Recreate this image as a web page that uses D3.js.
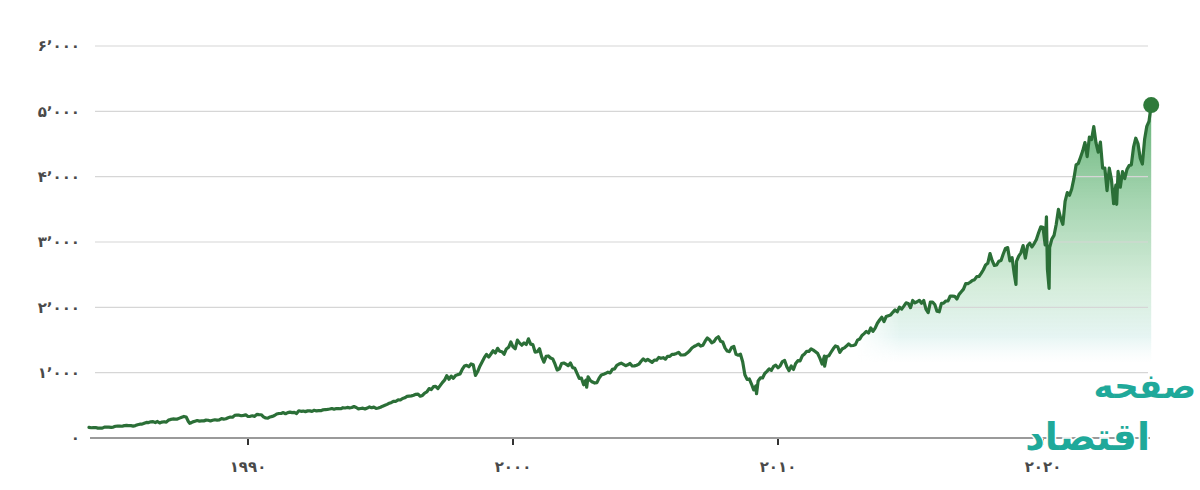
<!DOCTYPE html>
<html>
<head>
<meta charset="utf-8">
<script src="https://cdn.jsdelivr.net/npm/d3@7"></script>
<style>
  html, body { margin: 0; padding: 0; background: #ffffff; }
  svg { display: block; }
</style>
</head>
<body>
<div id="chart"></div>
<script>
// ---- Data (S&P 500 monthly closes) ----
const startYear = 1984;
const close1980s = [
  163.4,157.1,159.2,160.1,150.6,153.2,150.7,166.7,166.1,166.1,163.6,167.2,
  179.6,181.2,180.7,179.8,189.6,191.9,190.9,188.6,182.1,189.8,202.2,211.3,
  211.8,226.9,238.9,235.5,247.4,250.8,236.1,252.9,231.3,244.0,249.2,242.2,
  274.1,284.2,291.7,288.4,290.1,304.0,318.7,329.8,321.8,251.8,230.3,247.1,
  257.1,267.8,258.9,261.3,262.2,273.5,272.0,261.5,271.9,279.0,273.7,277.7,
  297.5,288.9,294.9,309.6,320.5,318.0,346.1,351.5,349.2,340.4,346.0,353.4
];
const close1990s = [
  329.1,331.9,339.9,330.8,361.2,358.0,356.2,322.6,306.1,304.0,322.2,330.2,
  343.9,367.1,375.2,375.3,389.8,371.2,387.8,395.4,387.9,392.5,375.2,417.1,
  408.8,412.7,403.7,415.0,415.4,408.1,424.2,414.0,417.8,418.7,431.4,435.7,
  438.8,443.4,451.7,440.2,450.2,450.5,448.1,463.6,458.9,467.8,461.8,466.5,
  481.6,467.1,445.8,450.9,456.5,444.3,458.3,475.5,462.7,472.4,453.7,459.3,
  470.4,487.4,500.7,514.7,533.4,544.8,562.1,561.9,584.4,581.5,605.4,615.9,
  636.0,640.4,645.5,654.2,669.1,670.6,639.9,652.0,687.3,705.3,757.0,740.7,
  786.2,790.8,757.1,801.3,848.3,885.1,954.3,899.5,947.3,914.6,955.4,970.4,
  980.3,1049.3,1101.8,1111.8,1090.8,1133.8,1120.7,957.3,1017.0,1098.7,1163.6,1229.2,
  1279.6,1238.3,1286.4,1335.2,1301.8,1372.7,1328.7,1320.4,1282.7,1362.9,1388.9,1469.3
];
const close2000s = [
  1394.5,1366.4,1498.6,1452.4,1420.6,1454.6,1430.8,1517.7,1436.5,1429.4,1315.2,1320.3,
  1366.0,1239.9,1160.3,1249.5,1255.8,1224.4,1211.2,1133.6,1040.9,1059.8,1139.5,1148.1,
  1130.2,1106.7,1147.4,1076.9,1067.1,989.8,911.6,916.1,815.3,885.8,936.3,879.8,
  855.7,841.2,848.2,916.9,963.6,974.5,990.3,1008.0,996.0,1050.7,1058.2,1111.9,
  1131.1,1144.9,1126.2,1107.3,1120.7,1140.8,1101.7,1104.2,1114.6,1130.2,1173.8,1211.9,
  1181.3,1203.6,1180.6,1156.9,1191.5,1191.3,1234.2,1220.3,1228.8,1207.0,1249.5,1248.3,
  1280.1,1280.7,1294.8,1310.6,1270.1,1270.2,1276.7,1303.8,1335.9,1377.9,1400.6,1418.3,
  1438.2,1406.8,1420.9,1482.4,1530.6,1503.4,1455.3,1474.0,1526.8,1549.4,1481.1,1468.4,
  1378.6,1330.6,1322.7,1385.6,1400.4,1280.0,1267.4,1282.8,1166.4,968.8,896.2,903.3,
  825.9,735.1,797.9,872.8,919.1,919.3,987.5,1020.6,1057.1,1036.2,1095.6,1115.1
];
const close2010s = [
  1073.9,1104.5,1169.4,1186.7,1089.4,1030.7,1101.6,1049.3,1141.2,1183.3,1180.6,1257.6,
  1286.1,1327.2,1325.8,1363.6,1345.2,1320.6,1292.3,1218.9,1131.4,1253.3,1247.0,1257.6,
  1312.4,1365.7,1408.5,1397.9,1310.3,1362.2,1379.3,1406.6,1440.7,1412.2,1416.2,1426.2,
  1498.1,1514.7,1569.2,1597.6,1630.7,1606.3,1685.7,1633.0,1681.6,1756.5,1805.8,1848.4,
  1782.6,1859.5,1872.3,1884.0,1923.6,1960.2,1930.7,2003.4,1972.3,2018.1,2067.6,2058.9,
  1995.0,2104.5,2067.9,2085.5,2107.4,2063.1,2103.8,1972.2,1920.0,2079.4,2080.4,2043.9,
  1940.2,1932.2,2059.7,2065.3,2097.0,2098.9,2173.6,2171.0,2168.3,2126.2,2198.8,2238.8,
  2278.9,2363.6,2362.7,2384.2,2411.8,2423.4,2470.3,2471.7,2519.4,2575.3,2647.6,2673.6,
  2823.8,2713.8,2640.9,2648.1,2705.3,2718.4,2816.3,2901.5,2914.0,2711.7,2760.2,2506.9,
  2704.1,2784.5,2834.4,2945.8,2752.1,2941.8,2980.4,2926.5,2976.7,3037.6,3141.0,3230.8
];
const close2020s = [
  3225.5,2954.2,2584.6,2912.4,3044.3,3100.3,3271.1,3500.3,3363.0,3270.0,3621.6,3756.1,
  3714.2,3811.2,3972.9,4181.2,4204.1,4297.5,4395.3,4522.7,4307.5,4605.4,4567.0,4766.2,
  4515.6,4373.9,4530.4,4131.9,4132.2,3785.4,4130.3,3955.0,3585.6,3872.0,4080.1,3839.5,
  4076.6,3970.2,4109.3,4169.5,4179.8,4450.4,4589.0,4507.7,4288.1,4193.8,4567.8,4769.8,
  4845.7,5096.3
];
// intramonth extremes visible as spikes in the chart (decimal year, value)
const extremeYears  = [1987.80, 2002.78, 2009.19, 2011.76, 2018.98, 2020.13, 2020.23, 2022.78];
const extremeValues = [225,     777,     677,     1099,    2351,    3386,    2290,    3577];

const yTicks = [0, 1000, 2000, 3000, 4000, 5000, 6000];
const xTicks = [1990, 2000, 2010, 2020];

// ---- helpers ----
const faDigits = "۰۱۲۳۴۵۶۷۸۹";
const toFa = s => String(s).replace(/[0-9]/g, d => faDigits[+d]);
const fmtY = v => v === 0 ? toFa(0) : toFa(Math.floor(v / 1000)) + "\u066C" + toFa(String(v % 1000).padStart(3, "0"));

const monthly = [].concat(close1980s, close1990s, close2000s, close2010s, close2020s)
  .map((v, i) => ({ t: startYear + i / 12, v }));
const extras = extremeYears.map((t, i) => ({ t, v: extremeValues[i] }));
const data = monthly.concat(extras).sort((a, b) => a.t - b.t);
const last = monthly[monthly.length - 1];

// ---- layout ----
const W = 1200, H = 490;
const svg = d3.select("#chart").append("svg").attr("width", W).attr("height", H);

const x = d3.scaleLinear().domain([1990, 2020]).range([248, 1043]);
const y = d3.scaleLinear().domain([0, 6000]).range([438, 46]);
const gridX0 = 95, gridX1 = 1148;

const defs = svg.append("defs");
const vg = defs.append("linearGradient").attr("id", "fillGrad")
  .attr("gradientUnits", "userSpaceOnUse").attr("x1", 0).attr("x2", 0).attr("y1", 110).attr("y2", 362);
[[0, "#3f9f55", 0.8], [0.35, "#79c08a", 0.68], [0.7, "#bfe3c8", 0.65], [0.9, "#dcf1ee", 0.7], [1, "#e8f6f6", 0.0]]
  .forEach(([o, c, a]) => vg.append("stop").attr("offset", o).attr("stop-color", c).attr("stop-opacity", a));
const hg = defs.append("linearGradient").attr("id", "maskGrad")
  .attr("gradientUnits", "userSpaceOnUse").attr("x1", 855).attr("x2", 900).attr("y1", 0).attr("y2", 0);
hg.append("stop").attr("offset", 0).attr("stop-color", "#000");
hg.append("stop").attr("offset", 1).attr("stop-color", "#fff");
defs.append("mask").attr("id", "fadeMask").attr("maskUnits", "userSpaceOnUse")
  .attr("x", 0).attr("y", 0).attr("width", W).attr("height", H)
  .append("rect").attr("x", 0).attr("y", 0).attr("width", W).attr("height", H).attr("fill", "url(#maskGrad)");

// area fill
const area = d3.area().x(d => x(d.t)).y0(y(1150)).y1(d => y(d.v)).curve(d3.curveLinear);
svg.append("path").datum(data.filter(d => d.t >= 2013))
  .attr("d", area).attr("fill", "url(#fillGrad)").attr("mask", "url(#fadeMask)");

// gridlines
svg.append("g").selectAll("line").data(yTicks.filter(d => d > 0)).join("line")
  .attr("x1", gridX0).attr("x2", gridX1)
  .attr("y1", d => y(d)).attr("y2", d => y(d))
  .attr("stroke", "#d6d6d6").attr("stroke-width", 1.2);

// y labels
svg.append("g").selectAll("text").data(yTicks).join("text")
  .attr("x", 80).attr("y", d => y(d)).attr("dy", "0.35em")
  .attr("text-anchor", "end")
  .attr("font-family", "DejaVu Sans, sans-serif").attr("font-size", 15).attr("font-weight", "bold")
  .attr("fill", "#4a4a4a")
  .text(fmtY);

// x axis
svg.append("line").attr("x1", 90).attr("x2", 1150).attr("y1", y(0)).attr("y2", y(0))
  .attr("stroke", "#9a9a9a").attr("stroke-width", 2);
svg.append("g").selectAll("line").data(xTicks).join("line")
  .attr("x1", d => x(d)).attr("x2", d => x(d)).attr("y1", y(0) + 1).attr("y2", y(0) + 7)
  .attr("stroke", "#333").attr("stroke-width", 2);

// watermark logo (drawn before x labels so labels stay readable)
const logo = svg.append("g").attr("font-family", "DejaVu Sans, sans-serif").attr("font-weight", "bold")
  .attr("fill", "#1fa99a").attr("stroke", "#ffffff").attr("stroke-width", 3).attr("paint-order", "stroke");
logo.append("text").attr("x", 1196).attr("y", 398).attr("text-anchor", "end")
  .attr("font-size", 34).text("صفحه");
logo.append("text").attr("x", 1150).attr("y", 450).attr("text-anchor", "end")
  .attr("font-size", 38).text("اقتصاد");

svg.append("g").selectAll("text").data(xTicks).join("text")
  .attr("x", d => x(d)).attr("y", 467).attr("dy", "0.35em").attr("text-anchor", "middle")
  .attr("font-family", "DejaVu Sans, sans-serif").attr("font-size", 15).attr("font-weight", "bold")
  .attr("fill", "#4a4a4a")
  .text(d => toFa(d));

// line
const line = d3.line().x(d => x(d.t)).y(d => y(d.v)).curve(d3.curveLinear);
svg.append("path").datum(data).attr("d", line)
  .attr("fill", "none").attr("stroke", "#2b6f37").attr("stroke-width", 3.2)
  .attr("stroke-linejoin", "round").attr("stroke-linecap", "round");

// end dot
svg.append("circle").attr("cx", x(last.t)).attr("cy", y(last.v)).attr("r", 8)
  .attr("fill", "#2e7a3a");
</script>
</body>
</html>
